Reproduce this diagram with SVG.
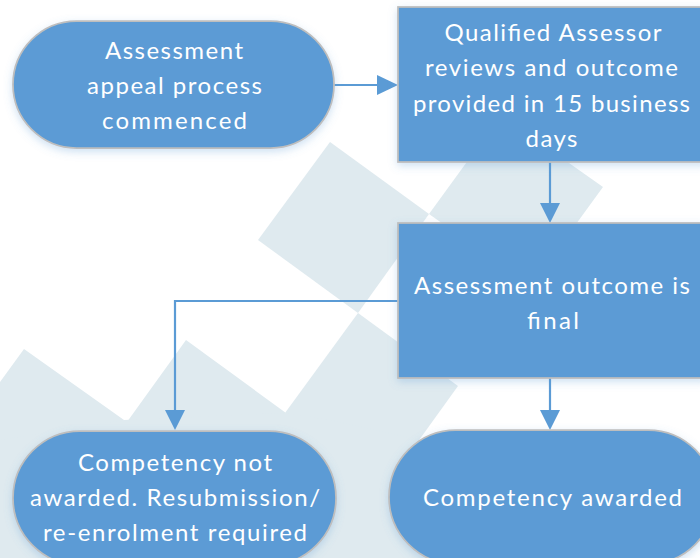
<svg xmlns="http://www.w3.org/2000/svg" width="700" height="558" viewBox="0 0 700 558">
  <style>
    .wm { fill: #DFEAEF; stroke: none; }
    .node { fill: #5B9BD5; stroke: #BEBEBE; stroke-width: 1.75; filter: url(#shadow); }
    .label { font-family: "Lato", "Liberation Sans", sans-serif; font-size: 24px; fill: #FFFFFF; text-anchor: middle; }
    .wire { fill: none; stroke: #5B9BD5; stroke-width: 2.2; }
    .head { fill: #5B9BD5; stroke: none; }
  </style>
  <defs>
    <filter id="shadow" x="-10%" y="-10%" width="120%" height="130%">
      <feDropShadow dx="0" dy="3" stdDeviation="4" flood-color="#5B9BD5" flood-opacity="0.3"/>
    </filter>
  </defs>

  <rect width="700" height="558" fill="#FFFFFF"/>

  <!-- background watermark: tilted squares -->
  <g id="watermark">
    <polygon class="wm" points="330,142 429,214 358,313 258,240"/>
    <polygon class="wm" points="501,115 603,187 531,286 429,214"/>
    <polygon class="wm" points="358,313 458,386 386,486 285,413"/>
    <polygon class="wm" points="186,340 286,413 214,512 114,440"/>
    <polygon class="wm" points="24,349 124,420 52,520 -48,448"/>
    <polygon class="wm" points="0,440 124,420 285,413 330,420 420,440 445,558 0,558"/>
  </g>

  <!-- connectors -->
  <g id="connectors">
    <line class="wire" x1="334" y1="85" x2="379" y2="85"/>
    <polygon class="head" points="377,75 398,85 377,95"/>

    <line class="wire" x1="550" y1="162" x2="550" y2="205"/>
    <polygon class="head" points="540,203 560,203 550,223"/>

    <polyline class="wire" points="398,301 175,301 175,412"/>
    <polygon class="head" points="165,410 185,410 175,430"/>

    <line class="wire" x1="550" y1="378" x2="550" y2="412"/>
    <polygon class="head" points="540,410 560,410 550,430"/>
  </g>

  <!-- start terminator -->
  <g id="node-start">
    <rect class="node" x="13" y="21" width="321" height="127" rx="63.5" ry="63.5"/>
    <text class="label" x="174" y="59" textLength="138" lengthAdjust="spacing">Assessment</text>
    <text class="label" x="174.5" y="94" textLength="175" lengthAdjust="spacing">appeal process</text>
    <text class="label" x="174.5" y="128.5" textLength="145" lengthAdjust="spacing">commenced</text>
  </g>

  <!-- assessor review step -->
  <g id="node-review">
    <rect class="node" x="398" y="7" width="308" height="155"/>
    <text class="label" x="553" y="41" textLength="217" lengthAdjust="spacing">Qualified Assessor</text>
    <text class="label" x="551.5" y="76" textLength="253" lengthAdjust="spacing">reviews and outcome</text>
    <text class="label" x="551.5" y="111.5" textLength="277" lengthAdjust="spacing">provided in 15 business</text>
    <text class="label" x="551.5" y="146.5" textLength="52" lengthAdjust="spacing">days</text>
  </g>

  <!-- final outcome step -->
  <g id="node-final">
    <rect class="node" x="398" y="223" width="308" height="155"/>
    <text class="label" x="552" y="293.5" textLength="276" lengthAdjust="spacing">Assessment outcome is</text>
    <text class="label" x="553" y="328.5" textLength="52" lengthAdjust="spacing">final</text>
  </g>

  <!-- not awarded terminator -->
  <g id="node-not-awarded">
    <rect class="node" x="13" y="431" width="323" height="134" rx="67" ry="67"/>
    <text class="label" x="175" y="471" textLength="194" lengthAdjust="spacing">Competency not</text>
    <text class="label" x="175" y="506" textLength="290" lengthAdjust="spacing">awarded. Resubmission/</text>
    <text class="label" x="175" y="540.5" textLength="264" lengthAdjust="spacing">re-enrolment required</text>
  </g>

  <!-- awarded terminator -->
  <g id="node-awarded">
    <rect class="node" x="389" y="430" width="326" height="134" rx="67" ry="67"/>
    <text class="label" x="552.5" y="506" textLength="259" lengthAdjust="spacing">Competency awarded</text>
  </g>
</svg>
